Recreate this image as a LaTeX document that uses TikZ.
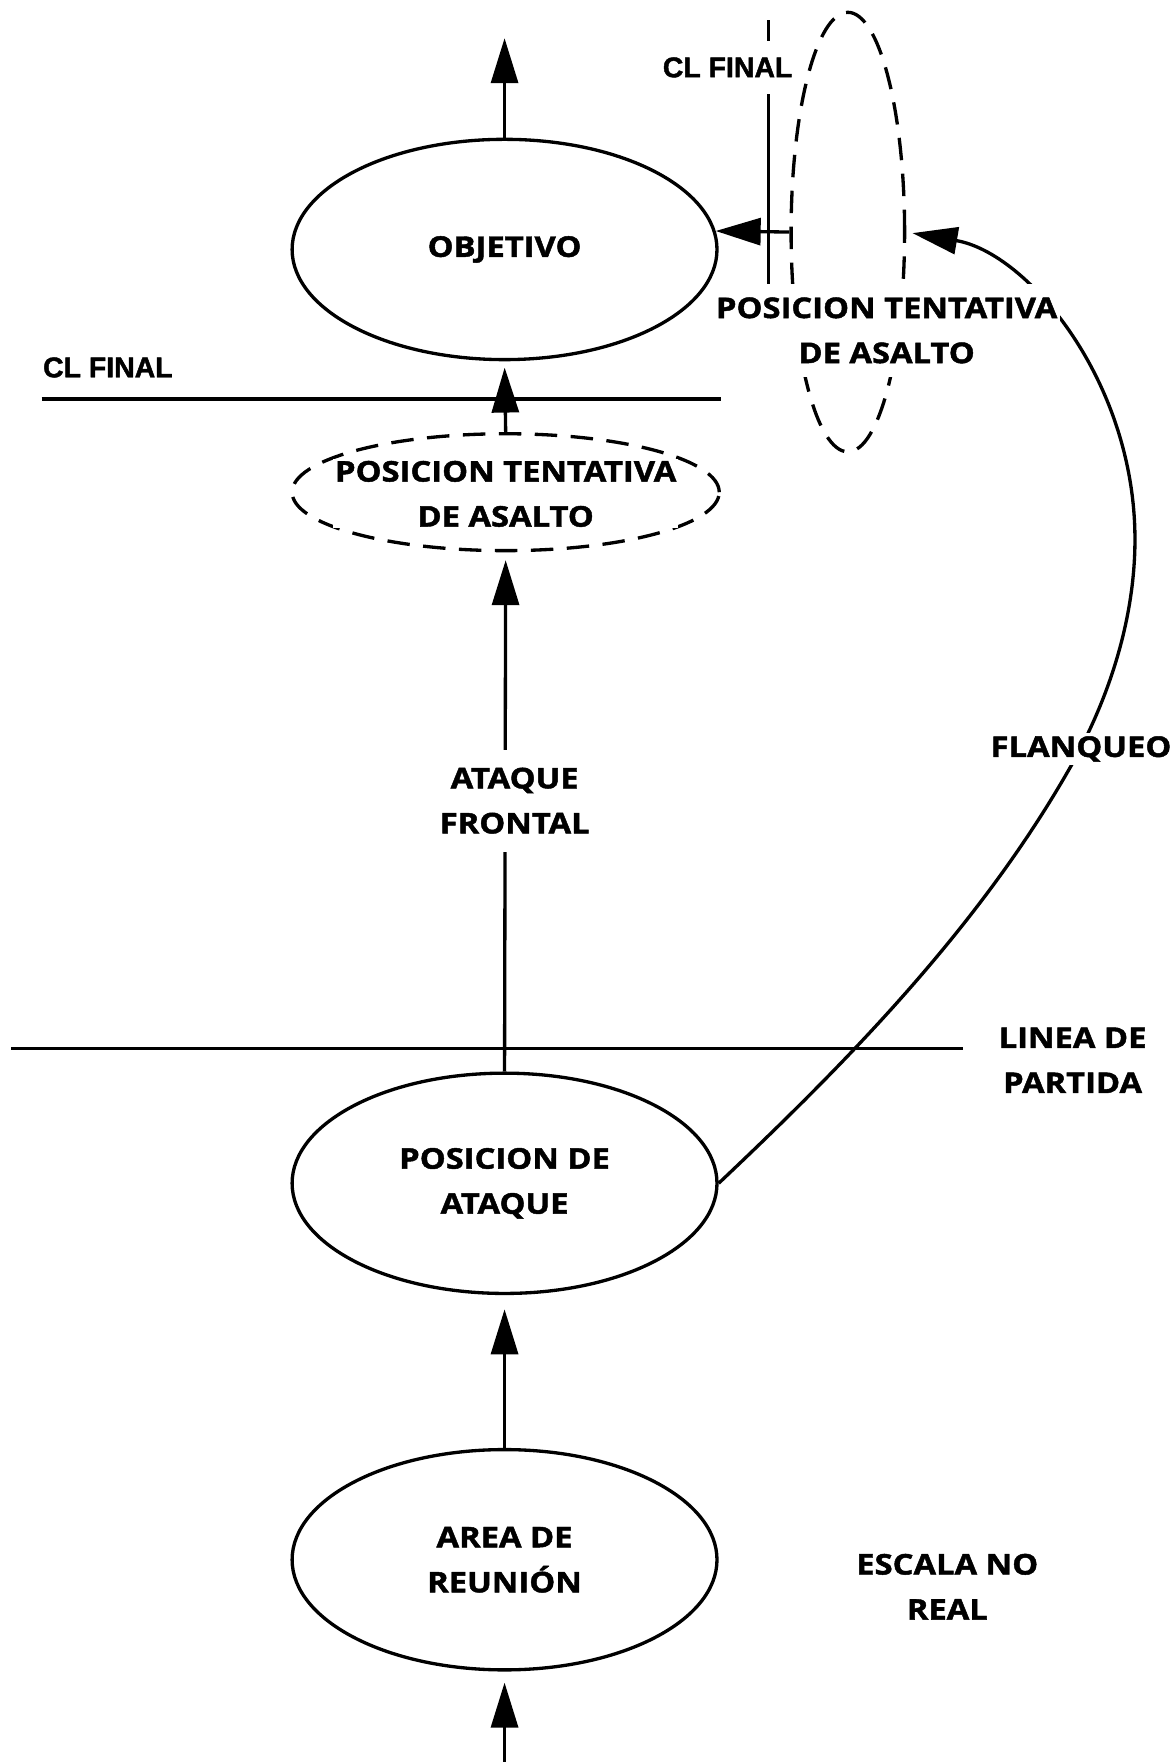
\documentclass[tikz,border=0pt]{standalone}
\usepackage{fontspec}
\setmainfont{Open Sans}[BoldFeatures={FakeStretch=1.15,FakeBold=1.6}]
\newfontfamily\clfont{Liberation Sans}[BoldFeatures={FakeBold=1.6}]
\usetikzlibrary{arrows.meta}
\usetikzlibrary{shapes.geometric}

\begin{document}
\begin{tikzpicture}[x=0.025cm,y=-0.025cm,
	zona/.style={draw,ellipse,line width=2.1pt,minimum width=9.45cm,minimum height=4.9cm,inner sep=0pt,align=center,font=\bfseries\fontsize{18}{28.5}\selectfont},
	zonatent/.style={draw,ellipse,line width=2.1pt,dash pattern=on 0.5cm off 0.3cm,inner sep=0pt},
	rotulo/.style={align=center,inner sep=2pt,font=\bfseries\fontsize{18}{28.5}\selectfont},
	cl/.style={inner sep=2pt,font=\clfont\bfseries\fontsize{18}{22}\selectfont},
	flecha/.style={line width=2.1pt,-{Triangle[length=1cm,width=0.6cm]}},
	fase/.style={line width=2pt}]
		\useasboundingbox (0,0) rectangle (1044,1568);
		
		\node[zona] (obj) at (449,222) {OBJETIVO};
		\node[zonatent,minimum width=9.5cm,minimum height=2.6cm] (pta) at (450,438) {};
		\node[zona] (pda) at (449,1053) {POSICION DE\\ATAQUE};
		\node[zona] (area) at (449,1388) {AREA DE\\REUNIÓN};
		\node[zonatent,minimum width=2.525cm,minimum height=9.775cm] (ptb) at (754.5,206.5) {};
		
		\coordinate (arriba) at (449,34);
		\coordinate (abajo) at (449,1568);
		
		\draw[fase] (37,355) -- (642,355);
		\draw[fase] (10,933) -- (857,933);
		\draw[fase] (684,18) -- (684,261);
		
		\draw[flecha] (obj.north) -- (arriba);
		\draw[flecha,shorten >=4pt] (pta.north) -- (obj.south);
		\draw[flecha,shorten >=5pt] (pda.north) -- (pta.south);
		\draw[flecha,shorten >=9pt] (area.north) -- (pda.south);
		\draw[flecha,shorten >=7pt] (abajo) -- (area.south);
		\draw[flecha] (ptb.west) -- (obj.5);
		% flanqueo
		\draw[flecha,shorten >=4pt] (pda.east) .. controls (755,944) and (870,826) .. (950,687)
			.. controls (986,625) and (1010,552) .. (1010,480)
			.. controls (1010,340) and (915,225) .. (ptb.east);
		
		\node[rotulo,fill=white,inner ysep=0.4cm] (frontal) at (458,712.5) {ATAQUE\\FRONTAL};
		\node[rotulo,fill=white] (flanqueo) at (962,666.5) {FLANQUEO};
		\node[rotulo,fill=white,inner sep=1pt] (ptatxt) at (450,439.5) {POSICION TENTATIVA\\DE ASALTO};
		\node[rotulo,fill=white,inner ysep=0.3cm] (ptbtxt) at (789,294) {POSICION TENTATIVA\\DE ASALTO};
		\node[rotulo] (partida) at (954.5,943.5) {LINEA DE\\PARTIDA};
		\node[rotulo] (escala) at (843,1412) {ESCALA NO\\REAL};
		\node[cl] (clizq) at (96,327) {CL FINAL};
		\node[cl,fill=white,inner ysep=0.36cm] (clder) at (647.5,60) {CL FINAL};
	\end{tikzpicture}
\end{document}
